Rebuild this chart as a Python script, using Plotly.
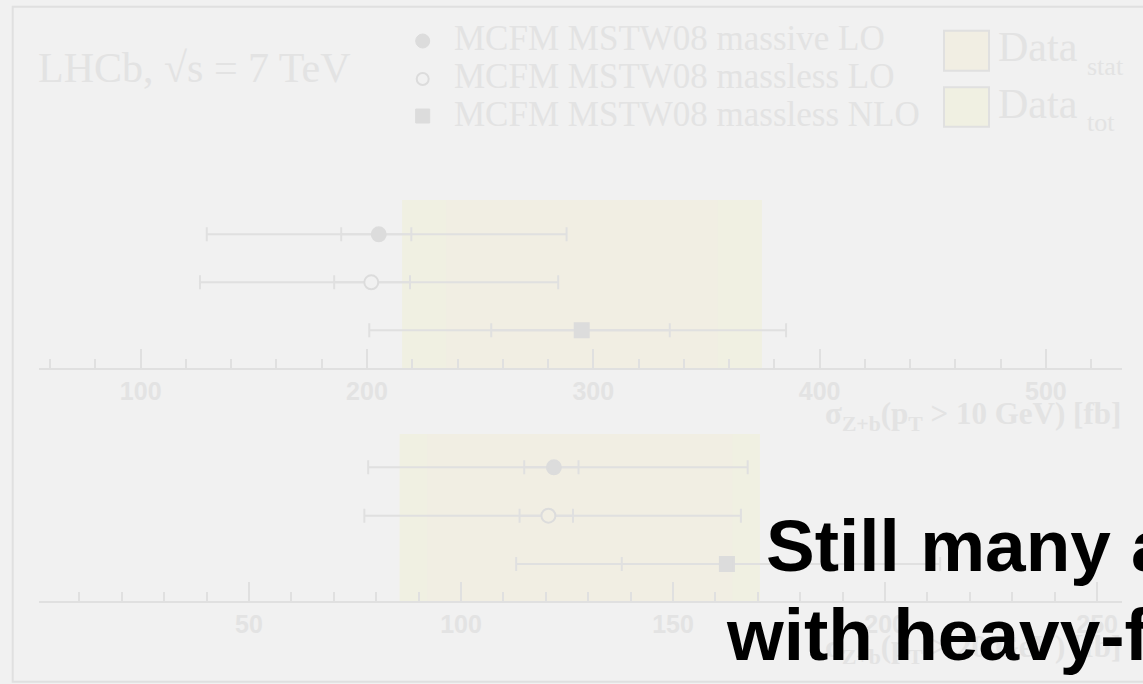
import math
import plotly.graph_objects as go

W, H = 1143, 684

# ---------------- data ----------------
models = ["MCFM MSTW08 massive LO", "MCFM MSTW08 massless LO", "MCFM MSTW08 massless NLO"]
rows = [3, 2, 1]
symbols = ["circle", "circle", "square"]

# sigma(Z+b), pT > 10 GeV [fb]
pt10_central = [205.2, 201.9, 294.9]
pt10_inner_lo = [188.6, 185.5, 254.9]
pt10_inner_hi = [219.6, 219.0, 333.8]
pt10_outer_lo = [129.2, 126.2, 201.0]
pt10_outer_hi = [288.2, 284.5, 385.2]
pt10_data, pt10_stat, pt10_syst, pt10_lumi = 295.0, 60.0, 51.0, 11.0

# sigma(Z+b), pT > 20 GeV [fb]
pt20_central = [121.9, 120.6, 162.7]
pt20_inner_lo = [114.9, 113.8, 137.9]
pt20_inner_hi = [127.7, 126.4, 186.0]
pt20_outer_lo = [78.1, 77.2, 113.0]
pt20_outer_hi = [167.6, 166.0, 213.0]
pt20_data, pt20_stat, pt20_syst, pt20_lumi = 128.0, 36.0, 22.0, 5.0

# ---------------- style ----------------
BG = "#f1f1f1"
LINE = "#e0e0e0"
MARK = "#dcdcdc"
TXT = "#e3e3e3"
TOT = "#f0f0e2"
STAT = "#f1eee3"
SERIF = "Liberation Serif"
SANS = "Liberation Sans"


def px(x):
    return x / W


def py(y):
    return 1 - y / H


fig = go.Figure()


def add_panel(xa, ya, central, ilo, ihi, olo, ohi, open_fill):
    inner_p = [h - c for h, c in zip(ihi, central)]
    inner_m = [c - l for c, l in zip(central, ilo)]
    outer_p = [h - c for h, c in zip(ohi, central)]
    outer_m = [c - l for c, l in zip(central, olo)]
    fig.add_trace(go.Scatter(
        x=central, y=rows, xaxis=xa, yaxis=ya, mode="markers",
        marker=dict(size=1, color="rgba(0,0,0,0)"),
        error_x=dict(type="data", array=inner_p, arrayminus=inner_m,
                     color=LINE, thickness=2, width=7),
        showlegend=False, hoverinfo="skip"))
    fills = [MARK, open_fill, MARK]
    fig.add_trace(go.Scatter(
        x=central, y=rows, xaxis=xa, yaxis=ya, mode="markers",
        marker=dict(size=14, symbol=symbols, color=fills,
                    line=dict(color=MARK, width=2)),
        error_x=dict(type="data", array=outer_p, arrayminus=outer_m,
                     color=LINE, thickness=2, width=7),
        showlegend=False, hoverinfo="skip"))


add_panel("x", "y", pt10_central, pt10_inner_lo, pt10_inner_hi,
          pt10_outer_lo, pt10_outer_hi, BG)
add_panel("x2", "y2", pt20_central, pt20_inner_lo, pt20_inner_hi,
          pt20_outer_lo, pt20_outer_hi, STAT)

shapes = []


def bands(xref, yref, data, stat, syst, lumi):
    tot = math.sqrt(stat ** 2 + syst ** 2 + lumi ** 2)
    shapes.append(dict(type="rect", xref=xref, yref=yref + " domain",
                       x0=data - tot, x1=data + tot, y0=0, y1=1,
                       fillcolor=TOT, line=dict(width=0), layer="below"))
    shapes.append(dict(type="rect", xref=xref, yref=yref + " domain",
                       x0=data - stat, x1=data + stat, y0=0, y1=1,
                       fillcolor=STAT, line=dict(width=0), layer="below"))


bands("x", "y", pt10_data, pt10_stat, pt10_syst, pt10_lumi)
bands("x2", "y2", pt20_data, pt20_stat, pt20_syst, pt20_lumi)

# frame
shapes.append(dict(type="rect", xref="paper", yref="paper",
                   x0=px(12.7), x1=px(1160), y0=py(681.7), y1=py(6.7),
                   line=dict(color=LINE, width=2), fillcolor="rgba(0,0,0,0)"))

# legend glyphs
lx = 422.7
ly = [41, 79, 116]
r = 7
shapes.append(dict(type="circle", xref="paper", yref="paper",
                   x0=px(lx - r), x1=px(lx + r), y0=py(ly[0] + r), y1=py(ly[0] - r),
                   fillcolor=MARK, line=dict(color=MARK, width=1)))
shapes.append(dict(type="circle", xref="paper", yref="paper",
                   x0=px(lx - r + 1), x1=px(lx + r - 1), y0=py(ly[1] + r - 1), y1=py(ly[1] - r + 1),
                   fillcolor=BG, line=dict(color=MARK, width=2)))
shapes.append(dict(type="rect", xref="paper", yref="paper",
                   x0=px(lx - r), x1=px(lx + r), y0=py(ly[2] + r), y1=py(ly[2] - r),
                   fillcolor=MARK, line=dict(color=MARK, width=1)))
shapes.append(dict(type="rect", xref="paper", yref="paper",
                   x0=px(944), x1=px(989), y0=py(70.7), y1=py(30.7),
                   fillcolor=STAT, line=dict(color=LINE, width=2)))
shapes.append(dict(type="rect", xref="paper", yref="paper",
                   x0=px(944), x1=px(989), y0=py(126.7), y1=py(87.3),
                   fillcolor=TOT, line=dict(color=LINE, width=2)))

ann = []


def text(x, y, s, size, family=SERIF, color=TXT, xanchor="left", weight="normal"):
    ann.append(dict(x=px(x), y=py(y), xref="paper", yref="paper", text=s,
                    showarrow=False, xanchor=xanchor, yanchor="middle",
                    font=dict(family=family, size=size, color=color, weight=weight)))


text(36, 67.7, "LHCb, √s = 7 TeV", 42)
for name, yy in zip(models, [38.8, 76.4, 114.1]):
    text(452, yy, name, 35)
text(996, 47.4, "Data", 42)
text(1085, 66.2, "stat", 26)
text(996, 103.7, "Data", 42)
text(1085, 122.5, "tot", 26)

text(1123, 416, "σ<sub>Z+b</sub>(p<sub>T</sub> > 10 GeV) [fb]", 31, xanchor="right", weight="bold")
text(1123, 649, "σ<sub>Z+b</sub>(p<sub>T</sub> > 20 GeV) [fb]", 31, xanchor="right", weight="bold")

text(764, 545.4, "Still many a", 73, family=SANS, color="#000000", weight="bold")
text(724, 634.7, "with heavy-f", 73, family=SANS, color="#000000", weight="bold")


def xaxis(domain, rng, dtick, mdtick, anchor):
    return dict(domain=domain, range=rng, anchor=anchor,
                showline=True, linecolor=LINE, linewidth=2,
                ticks="inside", ticklen=19, tickwidth=2, tickcolor=LINE,
                tick0=0, dtick=dtick,
                minor=dict(ticks="inside", ticklen=9, tickwidth=2, tickcolor=LINE,
                           tick0=0, dtick=mdtick),
                showgrid=False, zeroline=False, fixedrange=True,
                tickfont=dict(family=SANS, size=25, color=TXT, weight="bold"))


fig.update_layout(
    width=W, height=H, margin=dict(l=0, r=0, t=0, b=0),
    paper_bgcolor=BG, plot_bgcolor="rgba(0,0,0,0)",
    showlegend=False,
    xaxis=xaxis([px(39.3), px(1121.7)], [55.2, 533.5], 100, 20, "y"),
    yaxis=dict(domain=[py(368), py(200)], range=[0.215, 3.715], visible=False, fixedrange=True),
    xaxis2=xaxis([px(39.3), px(1121.7)], [0.54, 255.8], 50, 10, "y2"),
    yaxis2=dict(domain=[py(601), py(434)], range=[0.234, 3.689], visible=False, fixedrange=True),
    shapes=shapes, annotations=ann,
)

fig.write_html("out.html")
